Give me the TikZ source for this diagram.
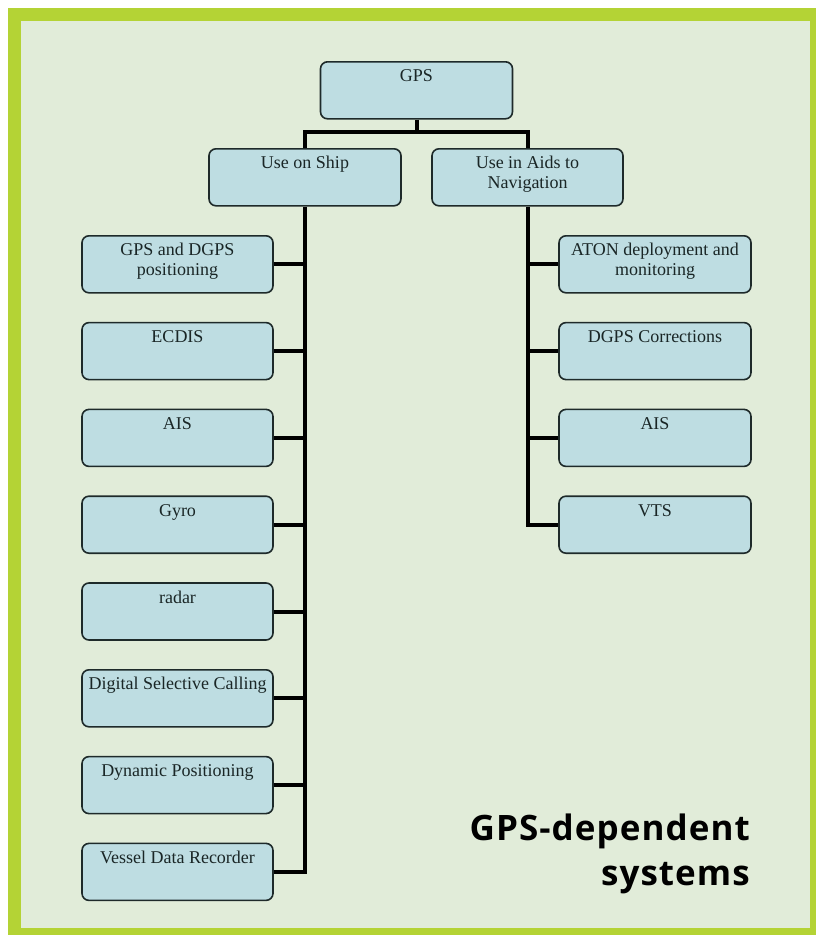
\documentclass[tikz,border=0pt]{standalone}
\usepackage{fontspec}
\setmainfont{Liberation Serif}
\newfontfamily\titlefont[LetterSpace=3]{Open Sans}
\definecolor{frameGreen}{HTML}{B4D335}
\definecolor{panelBg}{HTML}{E1ECD9}
\definecolor{boxFill}{HTML}{BEDDE2}
\definecolor{boxLine}{HTML}{1E2A2A}
\definecolor{txt}{HTML}{1A2626}
\newcommand{\boxtext}[2]{\parbox[t][57pt][t]{#1}{\centering\fontsize{18}{20}\selectfont\rule{0pt}{20pt}#2}}
\begin{document}
\begin{tikzpicture}[x=1pt,y=-1pt,
  box/.style={draw=boxLine, line width=1.6pt, fill=boxFill, rounded corners=7pt,
    inner sep=0pt, text=txt},
  conn/.style={draw=black, line width=4pt},
]
\useasboundingbox (0,0) rectangle (816,935);
\fill[white] (0,0) rectangle (816,935);
\fill[frameGreen] (8,8) rectangle (816,935);
\fill[panelBg] (21,21) rectangle (810,928);

% top level
\node[box, anchor=north] (gps) at (416.5,61) {\boxtext{192pt}{GPS}};
\node[box, anchor=north] (ship) at (305,148) {\boxtext{192pt}{Use on Ship}};
\node[box, anchor=north] (aids) at (527.5,148) {\boxtext{191pt}{Use in Aids to\\Navigation}};

% ship children
\node[box, anchor=north] (s1) at (177.5,235) {\boxtext{191pt}{GPS and DGPS\\positioning}};
\node[box, anchor=north] (s2) at (177.5,321.8) {\boxtext{191pt}{ECDIS}};
\node[box, anchor=north] (s3) at (177.5,408.6) {\boxtext{191pt}{AIS}};
\node[box, anchor=north] (s4) at (177.5,495.4) {\boxtext{191pt}{Gyro}};
\node[box, anchor=north] (s5) at (177.5,582.2) {\boxtext{191pt}{radar}};
\node[box, anchor=north] (s6) at (177.5,669) {\boxtext{191pt}{Digital Selective Calling}};
\node[box, anchor=north] (s7) at (177.5,755.8) {\boxtext{191pt}{Dynamic Positioning}};
\node[box, anchor=north] (s8) at (177.5,842.6) {\boxtext{191pt}{Vessel Data Recorder}};

% aids children
\node[box, anchor=north] (a1) at (655,235) {\boxtext{192pt}{ATON deployment and\\monitoring}};
\node[box, anchor=north] (a2) at (655,321.8) {\boxtext{192pt}{DGPS Corrections}};
\node[box, anchor=north] (a3) at (655,408.6) {\boxtext{192pt}{AIS}};
\node[box, anchor=north] (a4) at (655,495.4) {\boxtext{192pt}{VTS}};

% connectors
\coordinate (bus) at (0,132);
\draw[conn] (gps.south) -- (gps.south |- bus);
\draw[conn] (ship.north) |- (gps.south |- bus) -| (aids.north);
\draw[conn] (ship.south) |- (s8.east);
\foreach \n in {s1,s2,s3,s4,s5,s6,s7}
  \draw[conn] (\n.east) -- (\n.east -| ship.south);
\draw[conn] (aids.south) |- (a4.west);
\foreach \n in {a1,a2,a3}
  \draw[conn] (\n.west) -- (\n.west -| aids.south);

% title
\node[anchor=base east, inner sep=0pt, text=black] (title) at (750,840)
  {\parbox[t]{340pt}{\raggedleft\titlefont\bfseries\fontsize{35}{45}\selectfont GPS-dependent\\systems}};
\end{tikzpicture}
\end{document}
